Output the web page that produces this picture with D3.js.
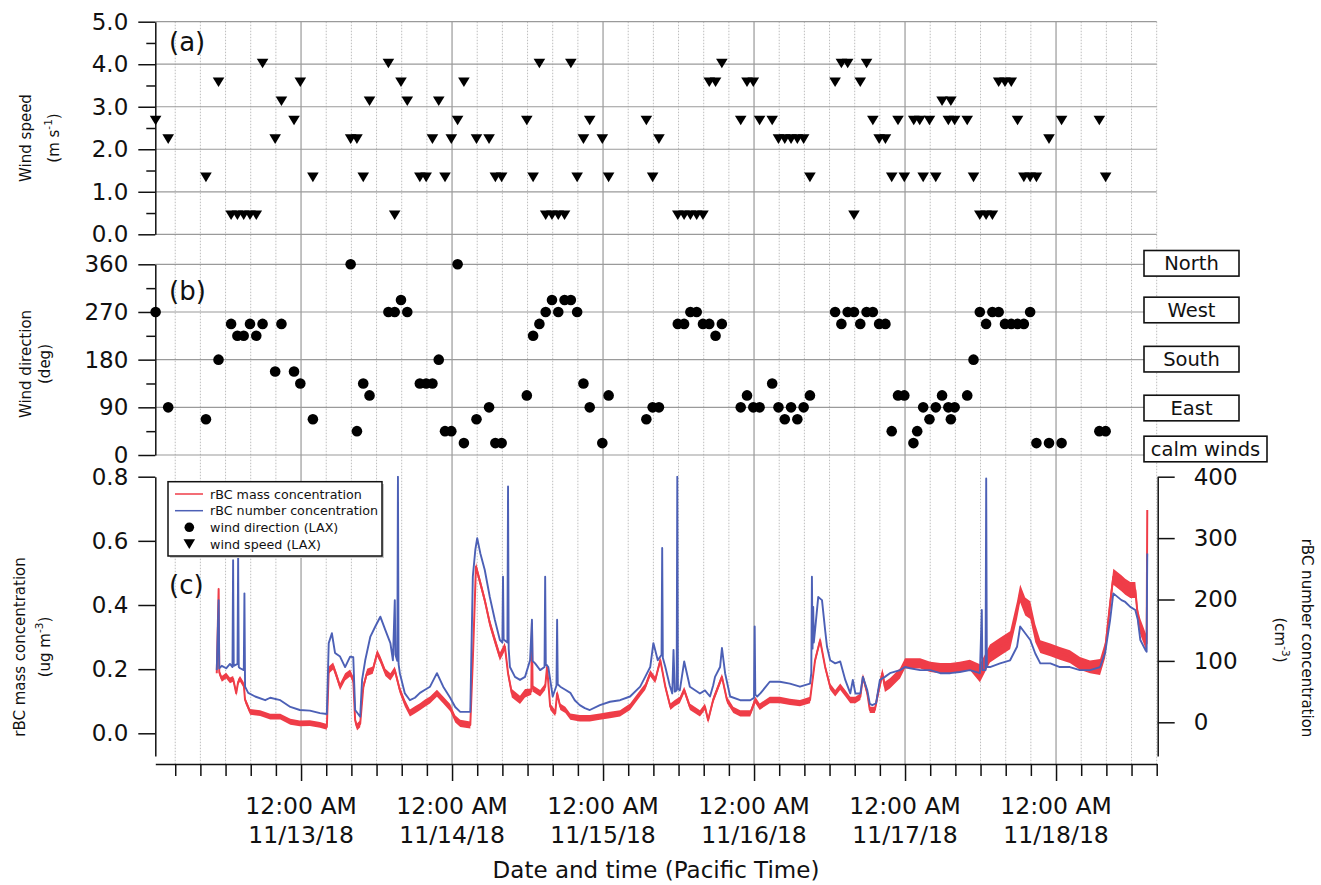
<!DOCTYPE html>
<html>
<head>
<meta charset="utf-8">
<script src="https://cdn.jsdelivr.net/npm/d3@7"></script>
<style>
  body { margin: 0; background: #fff; }
  svg { display: block; }
  text { font-family: "DejaVu Sans", Verdana, sans-serif; fill: #111; }
</style>
</head>
<body>
<svg id="chart" width="1321" height="885"></svg>
<script>
// ---------------------------------------------------------------------------
// Data: LAX observations (routine reports at hh:53, plus a few specials) and
// rBC time series. Times are hours after 11/12/18 00:00 Pacific Time.
// ---------------------------------------------------------------------------
const windSpeedHours = [0, 2, 8, 10, 12, 13, 14, 15, 16, 17, 19, 20, 22, 23, 25,
  31, 32, 33, 34, 37, 38, 39, 40, 42, 43, 44, 45, 46, 47, 48, 49, 51, 53, 54, 55,
  59, 60, 61, 62, 63, 64, 65, 66, 67, 68, 69, 71, 72, 78, 79, 80,
  83, 84, 85, 86, 87, 88, 89, 90, 93, 94, 95, 96, 98, 99, 100, 101, 102, 103, 104,
  108, 109, 110, 111, 112, 113, 114, 115, 116, 117, 118, 119,
  120.5, 121.45, 122, 123, 124, 125, 126, 126.4, 127, 129, 130,
  131, 132, 133, 134, 135, 136, 137, 138, 139, 140, 142, 144, 150, 151];
const windSpeedValues = [2.68, 2.24, 1.34, 3.58, 0.45, 0.45, 0.45, 0.45, 0.45, 4.02, 2.24, 3.13, 2.68, 3.58, 1.34,
  2.24, 2.24, 1.34, 3.13, 4.02, 0.45, 3.58, 3.13, 1.34, 1.34, 2.24, 3.13, 1.34, 2.24, 2.68, 3.58, 2.24, 2.24, 1.34, 1.34,
  2.68, 1.34, 4.02, 0.45, 0.45, 0.45, 0.45, 4.02, 1.34, 2.24, 2.68, 2.24, 1.34, 2.68, 1.34, 2.24,
  0.45, 0.45, 0.45, 0.45, 0.45, 3.58, 3.58, 4.02, 2.68, 3.58, 3.58, 2.68, 2.68, 2.24, 2.24, 2.24, 2.24, 2.24, 1.34,
  3.58, 4.02, 4.02, 0.45, 3.58, 4.02, 2.68, 2.24, 2.24, 1.34, 2.68, 1.34,
  2.68, 2.68, 1.34, 2.68, 1.34, 3.13, 2.68, 3.13, 2.68, 2.68, 1.34,
  0.45, 0.45, 0.45, 3.58, 3.58, 3.58, 2.68, 1.34, 1.34, 1.34, 2.24, 2.68, 2.68, 1.34];

const windDirHours = [0, 2, 8, 10, 12, 13, 14, 15, 16, 17, 19, 20, 22, 23, 25,
  31, 32, 33, 34, 37, 38, 39, 40, 42, 43, 44, 45, 46, 47, 48, 49, 51, 53, 54, 55,
  59, 60, 61, 62, 63, 64, 65, 66, 67, 68, 69, 71, 72, 78, 79, 80,
  83, 84, 85, 86, 87, 88, 89, 90, 93, 94, 95, 96, 98, 99, 100, 101, 102, 103, 104,
  108, 109, 110, 111, 112, 113, 114, 115, 116, 117, 118, 119,
  120.45, 121.05, 122, 123, 124, 125, 126, 126.4, 127, 129, 130,
  131, 132, 133, 134, 135, 136, 137, 138, 139, 140, 142, 144, 150, 151];
const windDirValues = [270, 90, 67.5, 180, 247.5, 225, 225, 247.5, 225, 247.5, 157.5, 247.5, 157.5, 135, 67.5,
  360, 45, 135, 112.5, 270, 270, 292.5, 270, 135, 135, 135, 180, 45, 45, 360, 22.5, 67.5, 90, 22.5, 22.5,
  112.5, 225, 247.5, 270, 292.5, 270, 292.5, 292.5, 270, 135, 90, 22.5, 112.5, 67.5, 90, 90,
  247.5, 247.5, 270, 270, 247.5, 247.5, 225, 247.5, 90, 112.5, 90, 90, 135, 90, 67.5, 90, 67.5, 90, 112.5,
  270, 247.5, 270, 270, 247.5, 270, 270, 247.5, 247.5, 45, 112.5, 112.5,
  22.5, 45, 90, 67.5, 90, 112.5, 90, 67.5, 90, 112.5, 180,
  270, 247.5, 270, 270, 247.5, 247.5, 247.5, 247.5, 270, 22.5, 22.5, 22.5, 45, 45];

// rBC mass concentration (ug m-3)
const massHours = [10.6, 10.9, 11.0, 11.4, 12.1, 12.7, 13.2, 13.7, 14.0, 14.3, 14.9, 15.1, 15.9, 17.5, 19.1,
  20.7, 22.3, 23.8, 25.4, 27.0, 28.1, 28.4, 29.1, 29.7, 30.2, 31.0, 31.8, 32.3, 32.6, 32.9, 33.4, 33.9,
  34.5, 35.4, 36.1, 36.6, 37.4, 38.2, 38.9, 39.7, 40.5, 41.3, 42.1, 42.9, 43.7, 44.5, 45.6, 46.6, 47.7,
  48.5, 49.3, 50.9, 51.3, 51.8, 52.5, 53.2, 54.0, 54.8, 55.6, 56.4, 56.9, 57.5, 58.8, 59.6, 60.6, 60.7,
  60.8, 61.2, 62.0, 62.8, 63.1, 63.6, 64.4, 64.7, 65.2, 66.0, 66.8, 68.3, 69.9, 71.5, 73.1, 74.7, 76.3,
  77.9, 78.7, 79.5, 80.3, 81.1, 81.9, 82.7, 83.4, 84.2, 84.9, 85.8, 87.4, 88.2, 88.7, 89.5, 90.9, 91.7,
  92.7, 93.8, 95.4, 96.2, 96.9, 98.5, 100.1, 101.7, 103.3, 104.9, 105.7, 106.5, 107.3, 108.1, 108.9,
  109.7, 110.5, 111.3, 112.1, 112.9, 113.3, 114.0, 114.4, 115.2, 115.7, 116.4, 116.8, 117.6, 119.2,
  120.0, 120.8, 122.4, 124.0, 125.6, 127.2, 128.7, 130.3, 131.9, 133.5, 135.1, 136.7, 137.8, 138.3,
  139.1, 139.9, 140.7, 141.5, 143.1, 144.6, 146.2, 147.8, 149.4, 151.0, 151.8, 152.6, 153.1, 154.4,
  155.0, 155.8, 156.6, 157.0, 157.4, 158.2, 158.4, 158.5];
const massValues = [0.187, 0.45, 0.19, 0.17, 0.18, 0.165, 0.17, 0.125, 0.16, 0.17, 0.15, 0.104, 0.067, 0.063, 0.052,
  0.052, 0.036, 0.031, 0.032, 0.026, 0.02, 0.197, 0.21, 0.176, 0.145, 0.176, 0.188, 0.166, 0.04, 0.02, 0.03, 0.145,
  0.19, 0.197, 0.25, 0.23, 0.19, 0.176, 0.197, 0.135, 0.094, 0.063, 0.073, 0.083, 0.094, 0.104, 0.125, 0.104, 0.08,
  0.045, 0.031, 0.026, 0.228, 0.52, 0.468, 0.415, 0.343, 0.29, 0.239, 0.27, 0.187, 0.125, 0.104, 0.125, 0.13, 0.343,
  0.14, 0.135, 0.125, 0.145, 0.207, 0.083, 0.063, 0.125, 0.083, 0.073, 0.052, 0.047, 0.047, 0.052, 0.057, 0.062, 0.083,
  0.125, 0.145, 0.187, 0.166, 0.228, 0.145, 0.083, 0.094, 0.104, 0.135, 0.083, 0.062, 0.083, 0.041, 0.104, 0.176, 0.104,
  0.073, 0.062, 0.062, 0.104, 0.083, 0.104, 0.104, 0.098, 0.094, 0.104, 0.228, 0.29, 0.207, 0.145, 0.125,
  0.145, 0.125, 0.104, 0.104, 0.114, 0.176, 0.125, 0.073, 0.073, 0.125, 0.187, 0.145, 0.156, 0.187,
  0.218, 0.218, 0.218, 0.207, 0.203, 0.203, 0.207, 0.213, 0.187, 0.249, 0.27, 0.29, 0.384, 0.436,
  0.395, 0.384, 0.312, 0.27, 0.26, 0.249, 0.239, 0.218, 0.207, 0.207, 0.26, 0.405, 0.488, 0.468,
  0.457, 0.447, 0.447, 0.363, 0.332, 0.29, 0.28, 0.696];

// half-width of the short-term scatter of the mass trace, per period
const massScatterStart = [0, 28.3, 51.2, 60.0, 115.5, 131.0, 141.5, 150.5];
const massScatterHalf  = [0.009, 0.011, 0.013, 0.010, 0.016, 0.028, 0.02, 0.025];

// rBC number concentration (cm-3)
const numberHours = [10.6, 10.9, 11.0, 11.4, 12.1, 12.7, 13.1, 13.2, 13.3, 13.9, 14.0, 14.1, 14.3, 14.9, 15.0,
  15.1, 15.6, 16.7, 18.3, 19.1, 20.7, 22.3, 23.8, 25.4, 27.0, 28.1, 28.4, 28.9, 29.4, 30.2, 31.0, 31.8,
  32.3, 32.6, 33.4, 33.7, 34.2, 35.0, 35.8, 36.6, 37.4, 38.2, 38.6, 38.9, 39.0, 39.3, 39.4, 39.5, 39.7,
  40.5, 41.3, 42.1, 42.9, 43.7, 44.5, 45.6, 46.6, 47.7, 48.5, 49.3, 50.9, 51.3, 51.7, 52.0, 52.5, 53.2,
  54.0, 54.8, 55.6, 56.0, 56.1, 56.2, 56.8, 56.9, 57.0, 57.2, 58.0, 58.8, 59.6, 60.4, 60.7, 60.8, 61.2,
  62.0, 62.7, 62.8, 62.9, 63.3, 64.0, 64.6, 64.7, 64.8, 65.2, 66.0, 66.8, 67.5, 68.3, 69.1, 69.9, 71.5,
  73.1, 74.7, 76.3, 77.9, 78.7, 79.5, 80.0, 80.7, 81.3, 81.4, 81.5, 81.9, 82.6, 83.0, 83.2, 83.4, 83.7,
  83.8, 83.9, 84.2, 84.9, 85.8, 87.4, 88.2, 89.0, 89.5, 89.8, 90.6, 90.9, 91.4, 92.2, 93.8, 95.4, 96.0,
  96.1, 96.2, 96.5, 97.0, 98.5, 100.1, 101.7, 103.3, 104.9, 105.1, 105.2, 105.3, 105.4, 105.5, 105.7,
  106.2, 106.8, 107.3, 107.6, 108.1, 108.9, 109.7, 110.5, 111.3, 111.7, 112.1, 112.9, 113.3, 114.0,
  114.4, 114.8, 115.4, 116.0, 116.8, 117.6, 119.2, 120.0, 120.8, 122.4, 124.0, 125.6, 127.2, 128.7,
  130.3, 131.9, 132.2, 132.3, 132.8, 132.9, 133.0, 133.5, 135.1, 136.7, 137.8, 138.3, 139.1, 139.9,
  140.7, 141.5, 143.1, 144.6, 146.2, 147.8, 149.4, 151.0, 151.8, 152.6, 153.1, 154.4, 155.0, 155.8,
  156.6, 157.0, 157.4, 158.2, 158.4, 158.5];
const numberValues = [85, 199, 88, 92, 88, 95, 90, 264, 92, 95, 270, 90, 88, 85, 210,
  58, 48, 42, 36, 40, 36, 25, 20, 19, 15, 13.5, 129, 145, 113, 107, 90, 107,
  106, 20, 9, 69, 101, 139, 156, 172, 150, 129, 101, 199, 110, 100, 400, 95, 80,
  47, 36, 40, 48, 53, 58, 80, 58, 40, 25, 17, 17, 237, 281, 300, 275, 248,
  204, 167, 134, 130, 237, 135, 130, 384, 120, 90, 74, 69, 74, 101, 167, 100, 96,
  85, 90, 237, 95, 90, 42, 60, 167, 62, 58, 53, 48, 36, 28, 23, 20, 28,
  33.5, 36, 42, 58, 74, 90, 129, 101, 110, 284, 105, 90, 60, 47, 118, 50, 52,
  400, 55, 52, 99, 58, 47, 52, 42, 60, 74, 90, 121, 80, 42, 36, 36, 40,
  156, 45, 42, 47, 66, 66, 63, 58, 63, 80, 237, 120, 188, 130, 150,
  204, 199, 150, 123, 101, 96, 99, 69, 47, 69, 47, 47, 74, 52,
  30, 28, 31, 69, 74, 80, 85, 90, 88, 85, 85, 80, 80, 82,
  85, 80, 183, 85, 85, 397, 90, 90, 96, 101, 123, 156, 145, 134,
  112, 96, 96, 90, 90, 85, 85, 90, 113, 167, 210, 199, 196, 188,
  183, 167, 134, 118, 115, 275];

const compassLabels = ["North", "West", "South", "East", "calm winds"];
const compassDegrees = [360, 270, 180, 90, 0];
const speedTicks = [0, 1, 2, 3, 4, 5];
const dirTicks = [0, 90, 180, 270, 360];
const massTicks = [0, 0.2, 0.4, 0.6, 0.8];
const numberTicks = [0, 100, 200, 300, 400];
const legendItems = ["rBC mass concentration", "rBC number concentration",
  "wind direction (LAX)", "wind speed (LAX)"];

// ---------------------------------------------------------------------------
const T0 = Date.UTC(2018, 10, 12);                 // 11/12/18 00:00 (clock time)
const hourToDate = h => new Date(T0 + h * 3600e3);
const obsToDate = i => new Date(T0 + (i * 60 + 53) * 60e3);

const X0 = 155.3, X1 = 1156.7;
const tStart = hourToDate(50 / 60), tEnd = hourToDate(160);
const x = d3.scaleUtc().domain([tStart, tEnd]).range([X0, X1]);

const ySpeed = d3.scaleLinear().domain([0, 5]).range([234.3, 21.7]);
const yDir = d3.scaleLinear().domain([0, 360]).range([455, 264.3]);
const C_TOP = 476.7, C_BOT = 756, AXIS_Y = 764;
const yMass = d3.scaleLinear().domain([0, 0.8]).range([733.3, C_TOP]);
const yNum = d3.scaleLinear().domain([0, 400]).range([722.3, C_TOP]);

const INK = "#111";
const RED = "#ef3d48", BLUE = "#4c60b6";
const svg = d3.select("#chart");

// ---- vertical grid (4 h dotted, daily solid) ----
const minorTimes = d3.utcHour.every(4).range(tStart, new Date(+tEnd + 1))
  .filter(d => d.getUTCHours() !== 0);
const dayTimes = d3.utcDay.range(tStart, tEnd);
const grid = svg.append("g");
grid.selectAll("line.minor").data(minorTimes).join("line")
  .attr("x1", d => x(d)).attr("x2", d => x(d))
  .attr("y1", ySpeed(5)).attr("y2", AXIS_Y)
  .attr("stroke", "#bdbdbd").attr("stroke-width", 1).attr("stroke-dasharray", "1.5,1.5");
grid.selectAll("line.major").data(dayTimes).join("line")
  .attr("x1", d => x(d)).attr("x2", d => x(d))
  .attr("y1", ySpeed(5)).attr("y2", AXIS_Y)
  .attr("stroke", "#a8a8a8").attr("stroke-width", 1.4);

// horizontal grid for panels (a) and (b)
grid.selectAll("line.hs").data(speedTicks).join("line")
  .attr("x1", X0).attr("x2", X1)
  .attr("y1", d => ySpeed(d)).attr("y2", d => ySpeed(d))
  .attr("stroke", "#9a9a9a").attr("stroke-width", 1.2);
grid.selectAll("line.hd").data(dirTicks).join("line")
  .attr("x1", X0).attr("x2", 1144)
  .attr("y1", d => yDir(d)).attr("y2", d => yDir(d))
  .attr("stroke", "#9a9a9a").attr("stroke-width", 1.2);

// ---- axis helpers ----
function styleAxis(sel, fs) {
  sel.attr("font-family", null).attr("font-size", null);
  sel.selectAll("text").attr("font-size", fs).style("fill", INK);
  sel.selectAll("line,path").attr("stroke", INK).attr("stroke-width", 1.5);
}
function leftAxis(scale, ticks, fmt, minor, extendTo) {
  const s = extendTo ? scale.copy().domain([scale.invert(extendTo), scale.domain()[1]])
                              .range([extendTo, scale.range()[1]]) : scale;
  const gA = svg.append("g").attr("transform", `translate(${X0},0)`)
    .call(d3.axisLeft(s).tickValues(ticks).tickFormat(fmt).tickSize(17).tickSizeOuter(0).tickPadding(10));
  styleAxis(gA, 23);
  if (minor) {
    const gm = svg.append("g").attr("transform", `translate(${X0},0)`)
      .call(d3.axisLeft(s).tickValues(minor).tickFormat("").tickSize(9).tickSizeOuter(0));
    gm.select(".domain").remove();
    styleAxis(gm, 23);
  }
  return gA;
}
leftAxis(ySpeed, speedTicks, d3.format(".1f"), [0.5, 1.5, 2.5, 3.5, 4.5]);
leftAxis(yDir, dirTicks, d3.format("d"), [45, 135, 225, 315]);
leftAxis(yMass, massTicks, d3.format(".1f"), null, C_BOT);

const yNumAxis = yNum.copy().domain([yNum.invert(C_BOT), 400]).range([C_BOT, C_TOP]);
const gR = svg.append("g").attr("transform", `translate(${X1 + 1},0)`)
  .call(d3.axisRight(yNumAxis).tickValues(numberTicks).tickFormat(d3.format("d"))
    .tickSize(17).tickSizeOuter(0).tickPadding(19));
styleAxis(gR, 23);

// ---- bottom time axis ----
const gX = svg.append("g").attr("transform", `translate(0,${AXIS_Y})`)
  .call(d3.axisBottom(x).tickValues(dayTimes).tickFormat("").tickSize(17).tickSizeOuter(0));
styleAxis(gX, 23);
const gXm = svg.append("g").attr("transform", `translate(0,${AXIS_Y})`)
  .call(d3.axisBottom(x).tickValues(minorTimes).tickFormat("").tickSize(12).tickSizeOuter(0));
gXm.select(".domain").remove();
styleAxis(gXm, 23);

const dateFmt = d3.utcFormat("%-m/%-d/%y");
const dayLabels = svg.append("g").selectAll("g").data(dayTimes).join("g")
  .attr("transform", d => `translate(${x(d)},0)`);
dayLabels.append("text").attr("y", 814).attr("text-anchor", "middle").attr("font-size", 23.5)
  .text("12:00 AM");
dayLabels.append("text").attr("y", 843).attr("text-anchor", "middle").attr("font-size", 23.5)
  .text(d => dateFmt(d));
svg.append("text").attr("x", 656).attr("y", 878).attr("text-anchor", "middle")
  .attr("font-size", 23).text("Date and time (Pacific Time)");

// ---- axis titles ----
function vTitle(xPos, yPos, rot, parts, fs) {
  const t = svg.append("text").attr("transform", `translate(${xPos},${yPos}) rotate(${rot})`)
    .attr("text-anchor", "middle").attr("font-size", fs);
  parts.forEach(p => {
    const ts = t.append("tspan").text(p.t);
    if (p.sup) ts.attr("font-size", fs * 0.7).attr("dy", -fs * 0.45);
    if (p.after) ts.attr("dy", fs * 0.45);
  });
}
vTitle(31, 138, -90, [{ t: "Wind speed" }], 15);
vTitle(59, 138, -90, [{ t: "(m s" }, { t: "-1", sup: true }, { t: ")", after: true }], 15);
vTitle(31, 364, -90, [{ t: "Wind direction" }], 15);
vTitle(50, 364, -90, [{ t: "(deg)" }], 15);
vTitle(25, 647, -90, [{ t: "rBC mass concentration" }], 15);
vTitle(50, 647, -90, [{ t: "(ug m" }, { t: "-3", sup: true }, { t: ")", after: true }], 15);
vTitle(1302, 638, 90, [{ t: "rBC number concentration" }], 15);
vTitle(1275, 640, 90, [{ t: "(cm" }, { t: "-3", sup: true }, { t: ")", after: true }], 15);

// panel letters
[["(a)", 50.5], ["(b)", 300], ["(c)", 594]].forEach(([s, yy]) =>
  svg.append("text").attr("x", 169).attr("y", yy).attr("font-size", 26).text(s));

// ---- compass label boxes for panel (b) ----
const boxW = [95, 95, 95, 95, 123];
const boxDy = [-1, -2, -0.5, 0.7, -6];
compassLabels.forEach((lab, i) => {
  const cy = yDir(compassDegrees[i]) + boxDy[i];
  svg.append("rect").attr("x", 1144).attr("y", cy - 12.8).attr("width", boxW[i]).attr("height", 25.6)
    .attr("fill", "#fff").attr("stroke", INK).attr("stroke-width", 1.6);
  svg.append("text").attr("x", 1144 + boxW[i] / 2).attr("y", cy + 7).attr("text-anchor", "middle")
    .attr("font-size", 19.5).text(lab);
});

// ---- markers ----
const tri = "M-5.8,-4.7L5.8,-4.7L0,4.9Z";
svg.append("g").selectAll("path").data(windSpeedHours).join("path")
  .attr("d", tri).attr("fill", "#000")
  .attr("transform", (h, i) => `translate(${x(obsToDate(h))},${ySpeed(windSpeedValues[i])})`);
svg.append("g").selectAll("circle").data(windDirHours).join("circle")
  .attr("cx", h => x(obsToDate(h))).attr("cy", (h, i) => yDir(windDirValues[i]))
  .attr("r", 5.3).attr("fill", "#000");

// ---- rBC time series ----
svg.append("clipPath").attr("id", "clipC").append("rect")
  .attr("x", X0).attr("y", C_TOP - 1).attr("width", X1 - X0).attr("height", C_BOT - C_TOP + 1);
const plotC = svg.append("g").attr("clip-path", "url(#clipC)");

const scatterAt = h => massScatterHalf[Math.max(0, d3.bisectRight(massScatterStart, h) - 1)];
const massBand = d3.area().x(h => x(hourToDate(h)))
  .y0((h, i) => yMass(massValues[i] - scatterAt(h)))
  .y1((h, i) => yMass(massValues[i] + scatterAt(h)));
const massLine = d3.line().x(h => x(hourToDate(h))).y((h, i) => yMass(massValues[i]));
const numLine = d3.line().x(h => x(hourToDate(h))).y((h, i) => yNum(numberValues[i]));

plotC.append("path").attr("d", massBand(massHours)).attr("fill", RED);
plotC.append("path").attr("d", massLine(massHours)).attr("fill", "none")
  .attr("stroke", RED).attr("stroke-width", 2).attr("stroke-linejoin", "round");
plotC.append("path").attr("d", numLine(numberHours)).attr("fill", "none")
  .attr("stroke", BLUE).attr("stroke-width", 1.9).attr("stroke-linejoin", "round");

// ---- legend ----
const lg = svg.append("g");
lg.append("rect").attr("x", 170).attr("y", 484).attr("width", 214).attr("height", 74).attr("fill", "#c8c8c8");
lg.append("rect").attr("x", 168).attr("y", 481.7).attr("width", 214).attr("height", 74.3)
  .attr("fill", "#fff").attr("stroke", INK).attr("stroke-width", 1.5);
const rowY = [494, 510.7, 527.3, 544];
lg.append("line").attr("x1", 175).attr("x2", 203).attr("y1", rowY[0]).attr("y2", rowY[0])
  .attr("stroke", RED).attr("stroke-width", 1.5);
lg.append("line").attr("x1", 175).attr("x2", 203).attr("y1", rowY[1]).attr("y2", rowY[1])
  .attr("stroke", BLUE).attr("stroke-width", 1.5);
lg.append("circle").attr("cx", 189.3).attr("cy", rowY[2]).attr("r", 4.8).attr("fill", "#000");
lg.append("path").attr("d", tri).attr("fill", "#000").attr("transform", `translate(189.3,${rowY[3]})`);
legendItems.forEach((s, i) =>
  lg.append("text").attr("x", 210).attr("y", rowY[i] + 4.6).attr("font-size", 12.7).text(s));
</script>
</body>
</html>
